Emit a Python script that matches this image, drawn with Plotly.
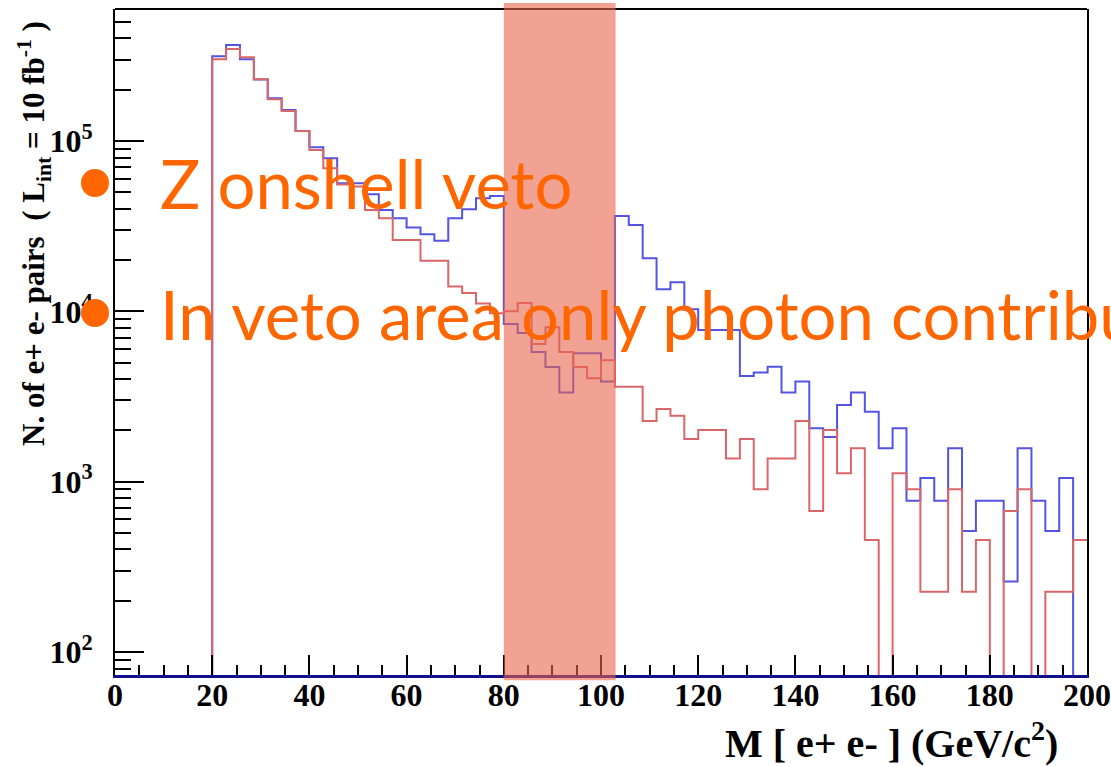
import plotly.graph_objects as go

# ---- data: 70 bins from 0 to 200 GeV/c^2 ----
X_MIN, X_MAX, N_BINS = 0.0, 200.0, 70

blue_counts = [
    0, 0, 0, 0, 0, 0, 0,
    315000, 366000, 302000, 230000, 178000, 152000, 114500, 91900, 79100, 56500,
    56500, 48700, 39400, 35200, 31100, 28400, 26000, 35200, 39700, 46100,
    47500, 8440, 7460, 5770, 4710, 3340, 5670, 5670, 3880, 36300,
    32100, 20500, 13500, 14800, 10300, 7770, 7770, 7770, 4170, 4370,
    4730, 3340, 3880, 2060, 1830, 2820, 3340, 2570, 1570, 2060,
    773, 1050, 773, 1570, 513, 773, 773, 259, 1570, 773,
    513, 1050, 0,
]
red_counts = [
    0, 0, 0, 0, 0, 0, 0,
    301700, 346700, 309800, 230100, 175800, 150000, 114500, 88600, 69100, 55500,
    54000, 39400, 35200, 26200, 26200, 19800, 19800, 14000, 12800, 11100,
    9730, 10000, 11200, 6430, 8060, 5770, 4710, 4050, 5160, 3610,
    3610, 2270, 2670, 2440, 1780, 2010, 2010, 1370, 1780, 902,
    1370, 1370, 2270, 673, 2010, 1120, 1570, 455, 0, 1120,
    902, 226, 226, 902, 226, 455, 0, 673, 902, 0,
    226, 226, 455,
]

veto_window = (80.0, 103.0)
x_ticks = [0, 20, 40, 60, 80, 100, 120, 140, 160, 180, 200]
y_tickvals = [1e2, 1e3, 1e4, 1e5]
y_ticktext = ["10<sup>2</sup>", "10<sup>3</sup>", "10<sup>4</sup>", "10<sup>5</sup>"]
y_minor = [m * 10 ** e for e in range(1, 6) for m in range(2, 10)]

bullet_texts = ["Z onshell veto", "In veto area only photon contribution"]
y_title = "N. of e+ e- pairs &nbsp;( L<sub>int</sub> = 10 fb<sup>-1</sup> )"
x_title = "M [ e+ e- ] (GeV/c<sup>2</sup>)"

# ---- build ----
width = (X_MAX - X_MIN) / N_BINS
edges = [X_MIN + i * width for i in range(N_BINS + 1)]
FLOOR = 1.0  # empty bins drawn below the visible log range


def step(vals):
    ys = [v if v > 0 else FLOOR for v in vals]
    return edges, ys + [ys[-1]]


fig = go.Figure()
bx, by = step(blue_counts)
fig.add_trace(go.Scatter(x=bx, y=by, mode="lines", line_shape="hv",
                         line=dict(color="#5454e2", width=2), showlegend=False))
rx, ry = step(red_counts)
fig.add_trace(go.Scatter(x=rx, y=ry, mode="lines", line_shape="hv",
                         line=dict(color="#d9676a", width=2), showlegend=False))

ORANGE = "#ff6600"
L, R, T, B = 115, 24, 9, 92
W, H = 1111, 767
pw, ph = W - L - R, H - T - B


def px(xp):
    return (xp - L) / pw


def py(yp):
    return (H - B - yp) / ph


shapes = [
    dict(type="line", xref="paper", yref="paper", x0=0, x1=1, y0=1, y1=1,
         line=dict(color="black", width=2), layer="above"),
    dict(type="rect", xref="x", yref="paper", x0=veto_window[0], x1=veto_window[1],
         y0=-0.008, y1=1.009, fillcolor="rgba(232,100,75,0.6)", line=dict(width=0),
         layer="above"),
]
for yc in (183, 313):
    shapes.append(dict(type="circle", xref="paper", yref="paper",
                       xsizemode="pixel", ysizemode="pixel",
                       xanchor=px(95), yanchor=py(yc), x0=-14, x1=14, y0=-14, y1=14,
                       fillcolor=ORANGE, line=dict(width=0), layer="above"))

annotations = [
    dict(text=bullet_texts[0], xref="paper", yref="paper", x=px(158), y=py(183),
         xanchor="left", yanchor="middle", showarrow=False,
         font=dict(family="Lato", size=67, color=ORANGE)),
    dict(text=bullet_texts[1], xref="paper", yref="paper", x=px(158), y=py(314),
         xanchor="left", yanchor="middle", showarrow=False,
         font=dict(family="Lato", size=67, color=ORANGE)),
    dict(text=y_title, xref="paper", yref="paper", x=px(34), y=py(234),
         xanchor="center", yanchor="middle", showarrow=False, textangle=-90,
         font=dict(family="Liberation Serif", size=31, color="black", weight="bold")),
    dict(text=x_title, xref="paper", yref="paper", x=px(1060), y=py(740),
         xanchor="right", yanchor="middle", showarrow=False,
         font=dict(family="Liberation Serif", size=40, color="black", weight="bold")),
]

tfont = dict(family="Liberation Serif", size=32, color="black", weight="bold")

fig.update_layout(
    width=W, height=H, margin=dict(l=L, r=R, t=T, b=B, autoexpand=False),
    paper_bgcolor="white", plot_bgcolor="white",
    shapes=shapes, annotations=annotations, showlegend=False,
    xaxis=dict(range=[X_MIN, X_MAX], tickvals=x_ticks, ticks="inside", ticklen=20,
               tickwidth=2, tickcolor="black", showgrid=False, zeroline=False,
               showline=True, linecolor="#10108a", linewidth=3, mirror=False,
               tickfont=tfont, ticklabelstandoff=-10,
               minor=dict(dtick=5, ticks="inside", ticklen=10, tickwidth=1.5,
                          tickcolor="black", showgrid=False)),
    yaxis=dict(type="log", range=[1.865, 5.775], tickvals=y_tickvals, ticktext=y_ticktext,
               ticks="inside", ticklen=29, tickwidth=2, tickcolor="black",
               showgrid=False, zeroline=False, showline=True, linecolor="black",
               linewidth=2, mirror=True,
               tickfont=tfont, ticklabelstandoff=14,
               minor=dict(tickmode="array", tickvals=y_minor, ticks="inside", ticklen=16,
                          tickwidth=1.5, tickcolor="black", showgrid=False)),
)

fig.write_html("out.html")
